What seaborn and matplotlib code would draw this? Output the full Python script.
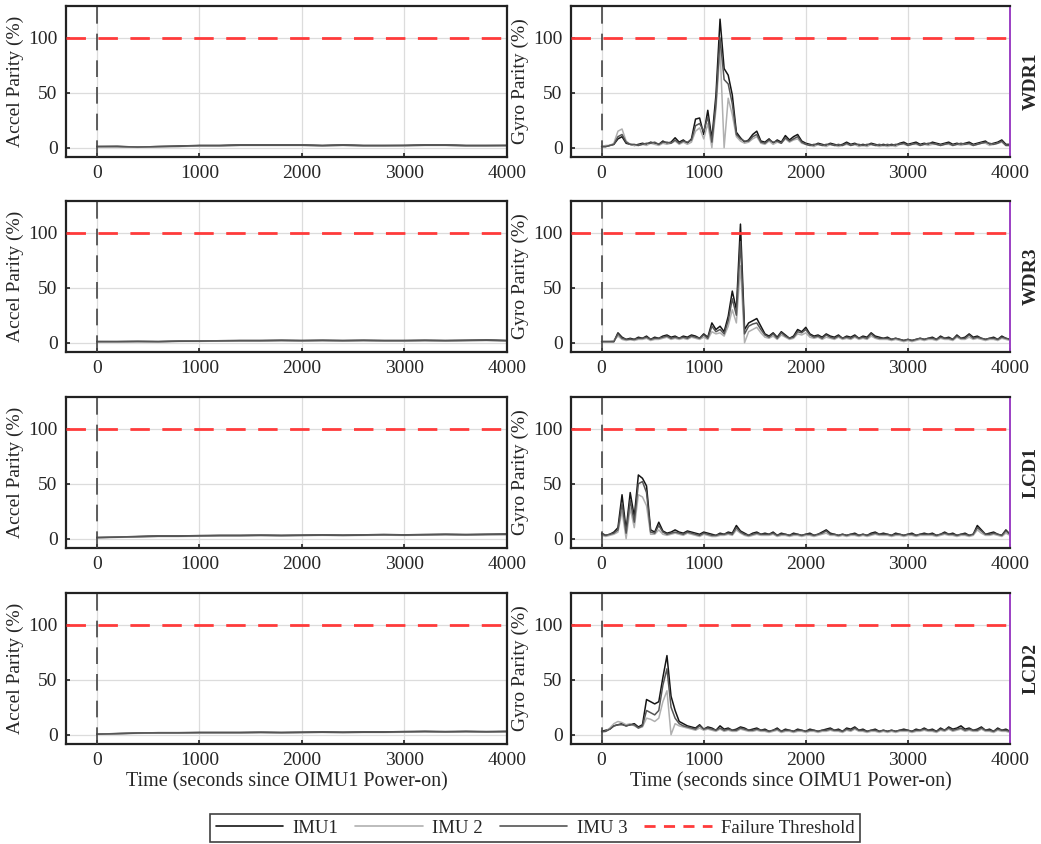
import numpy as np
import pandas as pd
import matplotlib
matplotlib.use("Agg")
import matplotlib.pyplot as plt
import seaborn as sns
from matplotlib.lines import Line2D

# time grids (s since OIMU1 power-on)
t_gyro = np.arange(0, 4001, 40)
t_accel = np.arange(0, 4001, 200)

runs = ["WDR1", "WDR3", "LCD1", "LCD2"]
imus = ["IMU1", "IMU 2", "IMU 3"]

# ---- gyro parity (%), 40 s steps ----
gyro_wdr1_imu1 = [1, 1, 2, 3, 8, 10, 4, 3, 2, 3,
                  4, 3, 5, 4, 3, 6, 4, 5, 9, 5,
                  7, 4, 8, 26, 27, 12, 34, 8, 48, 117,
                  72, 66, 48, 14, 9, 5, 7, 12, 15, 6,
                  5, 8, 4, 7, 5, 11, 7, 10, 12, 6,
                  4, 3, 2, 4, 3, 2, 4, 3, 2, 3,
                  5, 3, 4, 2, 3, 2, 4, 3, 2, 3,
                  2, 3, 2, 4, 5, 3, 4, 5, 3, 4,
                  3, 5, 4, 3, 4, 5, 3, 4, 3, 4,
                  5, 3, 4, 5, 6, 3, 4, 5, 7, 3,
                  3]
gyro_wdr1_imu2 = [1, 2, 2, 4, 15, 17, 6, 3, 2, 2,
                  3, 2, 4, 3, 2, 4, 3, 4, 6, 3,
                  5, 3, 5, 15, 18, 8, 22, 0, 35, 90,
                  0, 45, 30, 10, 6, 4, 5, 8, 10, 4,
                  3, 6, 3, 5, 4, 8, 5, 7, 8, 4,
                  3, 2, 1, 3, 2, 1, 3, 2, 1, 2,
                  3, 2, 3, 1, 2, 1, 3, 2, 1, 2,
                  1, 2, 1, 3, 3, 2, 3, 3, 2, 3,
                  2, 3, 3, 2, 3, 3, 2, 3, 2, 3,
                  3, 2, 3, 4, 4, 2, 3, 4, 5, 2,
                  2]
gyro_wdr1_imu3 = [1, 1, 2, 3, 10, 12, 5, 3, 3, 2,
                  3, 4, 4, 5, 3, 5, 5, 4, 7, 4,
                  6, 5, 7, 20, 22, 15, 28, 5, 40, 100,
                  62, 58, 40, 12, 8, 6, 6, 10, 12, 5,
                  4, 7, 5, 6, 4, 9, 6, 8, 10, 5,
                  3, 2, 3, 3, 2, 3, 3, 2, 3, 2,
                  4, 2, 3, 3, 2, 3, 3, 2, 3, 2,
                  3, 2, 3, 3, 4, 2, 3, 4, 2, 3,
                  4, 4, 3, 2, 3, 4, 2, 3, 4, 3,
                  4, 2, 3, 4, 5, 4, 3, 4, 6, 2,
                  2]

gyro_wdr3_imu1 = [1, 1, 1, 1, 9, 5, 3, 4, 3, 5,
                  4, 6, 3, 5, 4, 6, 7, 5, 6, 4,
                  6, 5, 7, 6, 4, 8, 5, 18, 12, 15,
                  10, 24, 47, 30, 108, 12, 18, 20, 22, 15,
                  8, 6, 9, 5, 10, 7, 4, 6, 12, 10,
                  14, 8, 6, 7, 5, 8, 6, 5, 7, 4,
                  6, 5, 7, 4, 6, 5, 9, 6, 5, 4,
                  5, 3, 4, 3, 2, 3, 2, 3, 4, 3,
                  4, 5, 3, 6, 4, 5, 3, 7, 4, 5,
                  8, 5, 6, 4, 3, 4, 5, 3, 6, 4,
                  3]
gyro_wdr3_imu2 = [1, 1, 1, 2, 6, 3, 2, 3, 2, 3,
                  3, 4, 2, 3, 3, 4, 5, 3, 4, 3,
                  4, 3, 5, 4, 3, 5, 3, 10, 8, 9,
                  6, 15, 30, 18, 70, 0, 10, 12, 14, 9,
                  5, 4, 6, 3, 7, 5, 3, 4, 8, 7,
                  9, 5, 4, 5, 3, 5, 4, 3, 5, 3,
                  4, 3, 5, 3, 4, 3, 6, 4, 3, 3,
                  3, 2, 3, 2, 1, 2, 1, 2, 3, 2,
                  3, 3, 2, 4, 3, 3, 2, 5, 3, 3,
                  5, 3, 4, 3, 2, 3, 3, 2, 4, 3,
                  2]
gyro_wdr3_imu3 = [1, 1, 1, 1, 8, 4, 3, 3, 3, 4,
                  4, 5, 3, 4, 4, 5, 6, 4, 5, 4,
                  5, 4, 6, 5, 4, 7, 4, 15, 10, 12,
                  8, 20, 40, 25, 92, 8, 15, 17, 18, 12,
                  7, 5, 8, 4, 9, 6, 4, 5, 10, 9,
                  12, 7, 5, 6, 4, 7, 5, 4, 6, 4,
                  5, 4, 6, 4, 5, 4, 8, 5, 4, 4,
                  4, 3, 4, 3, 2, 3, 2, 3, 4, 3,
                  4, 4, 3, 5, 4, 4, 3, 6, 4, 4,
                  7, 4, 5, 4, 3, 4, 4, 3, 5, 4,
                  3]

gyro_lcd1_imu1 = [5, 3, 4, 6, 10, 40, 8, 42, 20, 58,
                  55, 48, 8, 6, 15, 7, 5, 6, 8, 6,
                  5, 7, 6, 5, 4, 6, 5, 4, 3, 5,
                  4, 6, 5, 12, 7, 5, 3, 5, 6, 4,
                  5, 4, 6, 3, 5, 4, 3, 5, 4, 3,
                  4, 5, 3, 4, 6, 8, 5, 4, 3, 4,
                  3, 4, 5, 3, 4, 3, 5, 6, 4, 5,
                  4, 3, 5, 4, 3, 4, 5, 3, 4, 5,
                  4, 5, 3, 4, 6, 4, 5, 3, 4, 5,
                  3, 4, 12, 8, 4, 5, 6, 4, 3, 8,
                  4]
gyro_lcd1_imu2 = [3, 2, 3, 4, 6, 25, 0, 28, 10, 40,
                  38, 30, 4, 4, 8, 4, 3, 4, 5, 4,
                  3, 5, 4, 3, 2, 4, 3, 2, 2, 3,
                  3, 4, 3, 8, 5, 3, 2, 3, 4, 3,
                  3, 3, 4, 2, 3, 3, 2, 3, 3, 2,
                  3, 3, 2, 3, 4, 5, 3, 3, 2, 3,
                  2, 3, 3, 2, 3, 2, 3, 4, 3, 3,
                  3, 2, 3, 3, 2, 3, 3, 2, 3, 3,
                  3, 3, 2, 3, 4, 3, 3, 2, 3, 3,
                  2, 3, 8, 5, 3, 3, 4, 3, 2, 5,
                  3]
gyro_lcd1_imu3 = [4, 3, 4, 5, 8, 32, 5, 35, 15, 50,
                  52, 42, 6, 5, 12, 6, 4, 5, 6, 5,
                  4, 6, 5, 4, 3, 5, 4, 3, 3, 4,
                  4, 5, 4, 10, 6, 4, 3, 4, 5, 4,
                  4, 4, 5, 3, 4, 4, 3, 4, 4, 3,
                  4, 4, 3, 4, 5, 7, 4, 4, 3, 4,
                  3, 4, 4, 3, 4, 3, 4, 5, 4, 4,
                  4, 3, 4, 4, 3, 4, 4, 3, 4, 4,
                  4, 4, 3, 4, 5, 4, 4, 3, 4, 4,
                  3, 4, 10, 7, 4, 4, 5, 4, 3, 7,
                  4]

gyro_lcd2_imu1 = [3, 4, 5, 8, 9, 10, 8, 9, 10, 7,
                  9, 32, 30, 28, 30, 52, 72, 35, 22, 12,
                  10, 8, 7, 6, 9, 5, 7, 6, 4, 8,
                  5, 6, 4, 5, 7, 6, 4, 5, 6, 4,
                  5, 3, 4, 6, 3, 5, 4, 3, 5, 4,
                  3, 5, 4, 3, 4, 5, 6, 4, 5, 3,
                  6, 5, 7, 4, 5, 3, 4, 5, 3, 4,
                  3, 4, 3, 4, 5, 4, 3, 5, 4, 6,
                  4, 5, 3, 6, 4, 7, 5, 6, 8, 5,
                  6, 4, 5, 7, 4, 5, 3, 6, 4, 5,
                  3]
gyro_lcd2_imu2 = [2, 3, 6, 10, 12, 11, 9, 10, 8, 6,
                  7, 15, 14, 12, 15, 30, 40, 0, 10, 8,
                  7, 6, 5, 4, 6, 4, 5, 4, 3, 5,
                  3, 4, 3, 3, 5, 4, 3, 3, 4, 3,
                  3, 2, 3, 4, 2, 3, 3, 2, 3, 3,
                  2, 3, 3, 2, 3, 3, 4, 3, 3, 2,
                  4, 3, 5, 3, 3, 2, 3, 3, 2, 3,
                  2, 3, 2, 3, 3, 3, 2, 3, 3, 4,
                  3, 3, 2, 4, 3, 5, 3, 4, 5, 3,
                  4, 3, 3, 5, 3, 3, 2, 4, 3, 3,
                  2]
gyro_lcd2_imu3 = [3, 3, 5, 8, 9, 9, 8, 9, 9, 6,
                  8, 22, 20, 18, 22, 45, 60, 25, 15, 10,
                  8, 7, 6, 5, 8, 5, 6, 5, 4, 6,
                  4, 5, 4, 4, 6, 5, 4, 4, 5, 4,
                  4, 3, 4, 5, 3, 4, 4, 3, 4, 4,
                  3, 4, 4, 3, 4, 4, 5, 4, 4, 3,
                  5, 4, 6, 4, 4, 3, 4, 4, 3, 4,
                  3, 4, 3, 4, 4, 4, 3, 4, 4, 5,
                  4, 4, 3, 5, 4, 6, 4, 5, 6, 4,
                  5, 4, 4, 6, 4, 4, 3, 5, 4, 4,
                  3]

# ---- accel parity (%), 200 s steps ----
acc_wdr1_imu1 = [1, 1.2, 0.5, 1, 1.5, 2, 2, 2.5, 2.5, 2.5, 2.5, 2, 2.5, 2, 2, 2, 2.5, 2.5, 2, 2, 2]
acc_wdr1_imu2 = [1, 0.8, 0.3, 0.8, 1, 1.5, 1.5, 2, 2, 2, 2, 1.5, 2, 1.5, 1.5, 1.5, 2, 2, 1.5, 1.5, 1.5]
acc_wdr1_imu3 = [1, 1, 0.5, 1, 1.2, 1.8, 1.8, 2.2, 2.2, 2.2, 2.2, 1.8, 2.2, 1.8, 1.8, 2, 2.2, 2.2, 1.8, 1.8, 2]
acc_wdr3_imu1 = [1, 1, 1.2, 1, 1.5, 1.5, 1.8, 2, 2, 2.2, 2, 2.2, 2, 2.2, 2, 2, 2.2, 2, 2.2, 2.5, 2]
acc_wdr3_imu2 = [1, 0.8, 1, 0.8, 1.2, 1.2, 1.5, 1.5, 1.5, 1.8, 1.5, 1.8, 1.5, 1.8, 1.5, 1.5, 1.8, 1.5, 1.8, 2, 1.5]
acc_wdr3_imu3 = [1, 1, 1.1, 1, 1.3, 1.4, 1.6, 1.8, 1.8, 2, 1.8, 2, 1.8, 2, 1.8, 1.8, 2, 1.8, 2, 2.2, 1.8]
acc_lcd1_imu1 = [1, 1.5, 2, 2.5, 2.5, 2.8, 3, 3, 3.2, 3, 3.2, 3.5, 3.2, 3.5, 3.8, 3.5, 3.8, 4, 3.8, 4, 4.2]
acc_lcd1_imu2 = [1, 1.2, 1.5, 2, 2, 2.2, 2.5, 2.5, 2.8, 2.5, 2.8, 3, 2.8, 3, 3.2, 3, 3.2, 3.5, 3.2, 3.5, 3.5]
acc_lcd1_imu3 = [1, 1.3, 1.8, 2.2, 2.2, 2.5, 2.8, 2.8, 3, 2.8, 3, 3.2, 3, 3.2, 3.5, 3.2, 3.5, 3.8, 3.5, 3.8, 4]
acc_lcd2_imu1 = [0.5, 1, 1.5, 1.8, 1.8, 2, 2, 2, 2.2, 2, 2.2, 2.5, 2.2, 2.5, 2.5, 2.8, 3, 2.8, 3, 2.8, 3]
acc_lcd2_imu2 = [0.3, 0.8, 1.2, 1.5, 1.5, 1.6, 1.6, 1.6, 1.8, 1.6, 1.8, 2, 1.8, 2, 2, 2.2, 2.5, 2.2, 2.5, 2.2, 2.5]
acc_lcd2_imu3 = [0.4, 0.9, 1.4, 1.6, 1.6, 1.8, 1.8, 1.8, 2, 1.8, 2, 2.2, 2, 2.2, 2.2, 2.5, 2.8, 2.5, 2.8, 2.5, 2.8]

threshold = 100

gyro = {
    "WDR1": [gyro_wdr1_imu1, gyro_wdr1_imu2, gyro_wdr1_imu3],
    "WDR3": [gyro_wdr3_imu1, gyro_wdr3_imu2, gyro_wdr3_imu3],
    "LCD1": [gyro_lcd1_imu1, gyro_lcd1_imu2, gyro_lcd1_imu3],
    "LCD2": [gyro_lcd2_imu1, gyro_lcd2_imu2, gyro_lcd2_imu3],
}
accel = {
    "WDR1": [acc_wdr1_imu1, acc_wdr1_imu2, acc_wdr1_imu3],
    "WDR3": [acc_wdr3_imu1, acc_wdr3_imu2, acc_wdr3_imu3],
    "LCD1": [acc_lcd1_imu1, acc_lcd1_imu2, acc_lcd1_imu3],
    "LCD2": [acc_lcd2_imu1, acc_lcd2_imu2, acc_lcd2_imu3],
}


def long_df(t, series):
    parts = []
    for name, vals in zip(imus, series):
        parts.append(pd.DataFrame({"t": t, "val": vals, "imu": name}))
    return pd.concat(parts, ignore_index=True)


sns.set_theme(style="white")
plt.rcParams["font.family"] = ["Liberation Serif", "DejaVu Serif"]
plt.rcParams["font.size"] = 14

palette = {"IMU1": "#151515", "IMU 2": "#b0b0b0", "IMU 3": "#555555"}
red = "#ff3b3b"

fig = plt.figure(figsize=(10.41, 8.44), dpi=100)
bottoms = [0.8140, 0.5829, 0.3507, 0.1185]
h = 0.1789
lefts = [0.0634, 0.5485]
widths = [0.4236, 0.4217]

for r, run in enumerate(runs):
    for c in range(2):
        ax = fig.add_axes([lefts[c], bottoms[r], widths[c], h])
        if c == 0:
            df = long_df(t_accel, accel[run])
        else:
            df = long_df(t_gyro, gyro[run])
        sns.lineplot(data=df, x="t", y="val", hue="imu", palette=palette,
                     hue_order=imus, linewidth=1.1, legend=False, ax=ax)
        ax.axhline(threshold, color=red, lw=2, dashes=(7, 4.5), zorder=3)
        ax.axvline(0, color="#444444", lw=1.2, dashes=(10, 6), zorder=3)
        ax.set_xlim(-300, 4000)
        ax.set_ylim(-8.5, 129)
        ax.set_xticks([0, 1000, 2000, 3000, 4000])
        ax.set_yticks([0, 50, 100])
        ax.grid(True, color="#dcdcdc", lw=0.9)
        ax.tick_params(direction="in", length=3, labelsize=14, pad=6,
                       bottom=True, left=True)
        for sp in ax.spines.values():
            sp.set_color("#222222")
            sp.set_linewidth(1.6)
        ax.set_ylabel("Accel Parity (%)" if c == 0 else "Gyro Parity (%)",
                      fontsize=14, labelpad=3)
        if r == len(runs) - 1:
            ax.set_xlabel("Time (seconds since OIMU1 Power-on)", fontsize=14.5, labelpad=2)
        else:
            ax.set_xlabel("")
        if c == 1:
            ax.spines["right"].set_color("#9b3fc4")
            ax.spines["right"].set_linewidth(1.4)
            fig.text(0.991, bottoms[r] + h / 2, run, rotation=90, ha="center",
                     va="center", fontsize=14, fontweight="bold")

handles = [Line2D([0], [0], color=palette["IMU1"], lw=1.2),
           Line2D([0], [0], color=palette["IMU 2"], lw=1.2),
           Line2D([0], [0], color=palette["IMU 3"], lw=1.2),
           Line2D([0], [0], color=red, lw=2, dashes=(4, 3))]
leg = fig.legend(handles, ["IMU1", "IMU 2", "IMU 3", "Failure Threshold"],
                 loc="center", bbox_to_anchor=(0.514, 0.019), ncol=4,
                 fontsize=13.5, frameon=True, fancybox=False, handlelength=3.6,
                 columnspacing=0.9, handletextpad=0.5, borderpad=0.3)
leg.get_frame().set_edgecolor("#111111")
leg.get_frame().set_linewidth(1.2)

fig.savefig("out.png", dpi=100)
